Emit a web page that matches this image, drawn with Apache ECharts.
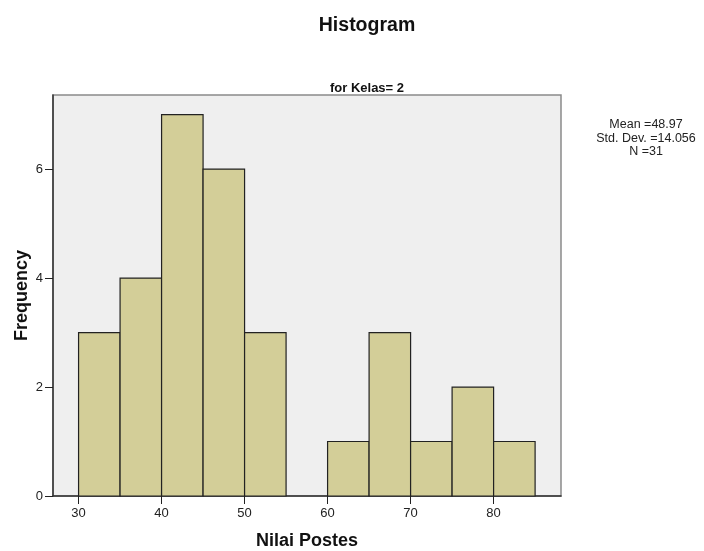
<!DOCTYPE html>
<html><head><meta charset="utf-8">
<script src="https://cdn.jsdelivr.net/npm/echarts@6/dist/echarts.min.js"></script>
<style>html,body{margin:0;padding:0;background:#fff}#c{width:704px;height:551px}</style>
</head><body><div id="c"></div>
<script>
const binStarts = [30, 35, 40, 45, 50, 60, 65, 70, 75, 80];
const binWidth = 5;
const counts = [3, 4, 7, 6, 3, 1, 3, 1, 2, 1];
const xTicks = [30, 40, 50, 60, 70, 80];
const yTicks = [0, 2, 4, 6];
const statsLines = ['Mean =48.97', 'Std. Dev. =14.056', 'N =31'];

const data = binStarts.map((s, i) => [s, s + binWidth, counts[i]]);
const chart = echarts.init(document.getElementById('c'), null, {renderer: 'canvas'});
const font = 'Liberation Sans, Arial, sans-serif';
chart.setOption({
  animation: false,
  textStyle: {fontFamily: font},
  title: [
    {text: 'Histogram', left: 362, top: 11, textAlign: 'center',
     textStyle: {fontSize: 19.5, fontWeight: 'bold', color: '#111', fontFamily: font}},
    {text: 'for Kelas= 2', left: 362, top: 77, textAlign: 'center',
     textStyle: {fontSize: 13, fontWeight: 'bold', color: '#111', fontFamily: font}}
  ],
  grid: {left: 53, right: 143, top: 95, bottom: 55, show: true, outerBoundsMode: 'none', containLabel: false,
         backgroundColor: '#efefef', borderColor: '#8a8a8a', borderWidth: 1.5},
  xAxis: {
    type: 'value', min: 26.92, max: 88.12,
    name: 'Nilai Postes', nameLocation: 'middle', nameGap: 36, nameMoveOverlap: false,
    nameTextStyle: {fontSize: 18, fontWeight: 'bold', color: '#111', fontFamily: font},
    axisLine: {show: true, lineStyle: {color: '#333', width: 1.5}},
    axisTick: {show: true, length: 8, customValues: xTicks, lineStyle: {color: '#222'}},
    axisLabel: {customValues: xTicks, fontSize: 13, color: '#222', margin: 11},
    splitLine: {show: false}
  },
  yAxis: {
    type: 'value', min: 0, max: 7.36,
    name: 'Frequency', nameLocation: 'middle', nameGap: 22, nameMoveOverlap: false,
    nameTextStyle: {fontSize: 18, fontWeight: 'bold', color: '#111', fontFamily: font},
    axisLine: {show: true, lineStyle: {color: '#333', width: 1.5}},
    axisTick: {show: true, length: 8, customValues: yTicks, lineStyle: {color: '#222'}},
    axisLabel: {customValues: yTicks, fontSize: 13, color: '#222', margin: 10},
    splitLine: {show: false}
  },
  graphic: [{
    type: 'text', x: 646, y: 118,
    style: {text: statsLines.join('\n'), align: 'center', verticalAlign: 'top', fontSize: 12.5, lineHeight: 13.5,
            fill: '#222', fontFamily: font}
  }],
  series: [{
    type: 'custom',
    encode: {x: [0, 1], y: 2},
    data: data,
    renderItem: function (params, api) {
      const a = api.coord([api.value(0), api.value(2)]);
      const b = api.coord([api.value(1), 0]);
      return {type: 'rect', shape: {x: a[0], y: a[1], width: b[0] - a[0], height: b[1] - a[1]},
              style: {fill: '#d3ce98', stroke: '#222', lineWidth: 1.2}};
    }
  }]
});
</script></body></html>
